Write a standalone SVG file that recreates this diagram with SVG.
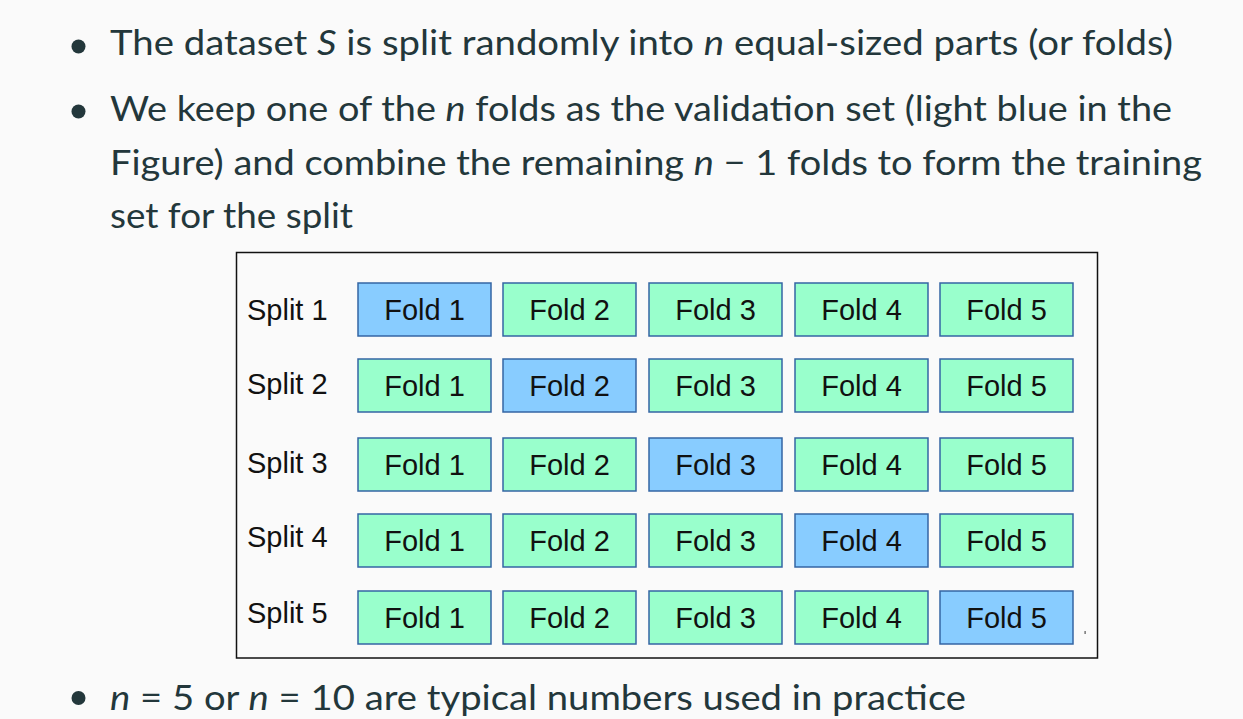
<svg xmlns="http://www.w3.org/2000/svg" width="1243" height="719" viewBox="0 0 1243 719">
<style>
.bt{font-family:"Lato","Open Sans","DejaVu Sans",sans-serif;font-size:35px;fill:#23373b}
.m{font-style:italic}
.lbl{font-family:"Liberation Sans",Arial,sans-serif;font-size:29px;fill:#111}
.ft{font-family:"Liberation Sans",Arial,sans-serif;font-size:29px;fill:#111;text-anchor:middle}
.tr{fill:#99ffcc;stroke:#3465a4;stroke-width:1.5}
.va{fill:#88ccff;stroke:#3465a4;stroke-width:1.5}
</style>
<rect x="0" y="0" width="1243" height="719" fill="#fafafa"/>
<g id="bullets" fill="#23373b">
<circle cx="78.5" cy="46.5" r="7"/>
<circle cx="78.5" cy="111.5" r="7"/>
<circle cx="78.5" cy="698" r="7"/>
</g>
<g id="text">
<text class="bt" x="110" y="55" textLength="1063" lengthAdjust="spacingAndGlyphs">The dataset <tspan class="m">S</tspan> is split randomly into <tspan class="m">n</tspan> equal-sized parts (or folds)</text>
<text class="bt" x="110" y="121" textLength="1062" lengthAdjust="spacingAndGlyphs">We keep one of the <tspan class="m">n</tspan> folds as the validation set (light blue in the</text>
<text class="bt" x="110" y="175" textLength="1092" lengthAdjust="spacingAndGlyphs">Figure) and combine the remaining <tspan class="m">n</tspan> − 1 folds to form the training</text>
<text class="bt" x="110" y="228" textLength="243" lengthAdjust="spacingAndGlyphs">set for the split</text>
<text class="bt" x="110" y="710" textLength="856" lengthAdjust="spacingAndGlyphs"><tspan class="m">n</tspan> = 5 or <tspan class="m">n</tspan> = 10 are typical numbers used in practice</text>
</g>
<g id="frame">
<rect x="236.5" y="252.5" width="861" height="405.5" fill="#fafafa" stroke="#111" stroke-width="1.5"/>
<rect x="1084.5" y="631" width="1.2" height="3" fill="#555"/>
</g>
<g id="labels">
<text class="lbl" x="247" y="320">Split 1</text>
<text class="lbl" x="247" y="394">Split 2</text>
<text class="lbl" x="247" y="473">Split 3</text>
<text class="lbl" x="247" y="547">Split 4</text>
<text class="lbl" x="247" y="623">Split 5</text>
</g>
<g id="row1">
<g id="s1f1"><rect class="va" x="358" y="283" width="133" height="53"/><text class="ft" x="424.5" y="320">Fold 1</text></g>
<g id="s1f2"><rect class="tr" x="503" y="283" width="133" height="53"/><text class="ft" x="569.5" y="320">Fold 2</text></g>
<g id="s1f3"><rect class="tr" x="649" y="283" width="133" height="53"/><text class="ft" x="715.5" y="320">Fold 3</text></g>
<g id="s1f4"><rect class="tr" x="795" y="283" width="133" height="53"/><text class="ft" x="861.5" y="320">Fold 4</text></g>
<g id="s1f5"><rect class="tr" x="940" y="283" width="133" height="53"/><text class="ft" x="1006.5" y="320">Fold 5</text></g>
</g>
<g id="row2">
<g id="s2f1"><rect class="tr" x="358" y="359" width="133" height="53"/><text class="ft" x="424.5" y="396">Fold 1</text></g>
<g id="s2f2"><rect class="va" x="503" y="359" width="133" height="53"/><text class="ft" x="569.5" y="396">Fold 2</text></g>
<g id="s2f3"><rect class="tr" x="649" y="359" width="133" height="53"/><text class="ft" x="715.5" y="396">Fold 3</text></g>
<g id="s2f4"><rect class="tr" x="795" y="359" width="133" height="53"/><text class="ft" x="861.5" y="396">Fold 4</text></g>
<g id="s2f5"><rect class="tr" x="940" y="359" width="133" height="53"/><text class="ft" x="1006.5" y="396">Fold 5</text></g>
</g>
<g id="row3">
<g id="s3f1"><rect class="tr" x="358" y="438" width="133" height="53"/><text class="ft" x="424.5" y="475">Fold 1</text></g>
<g id="s3f2"><rect class="tr" x="503" y="438" width="133" height="53"/><text class="ft" x="569.5" y="475">Fold 2</text></g>
<g id="s3f3"><rect class="va" x="649" y="438" width="133" height="53"/><text class="ft" x="715.5" y="475">Fold 3</text></g>
<g id="s3f4"><rect class="tr" x="795" y="438" width="133" height="53"/><text class="ft" x="861.5" y="475">Fold 4</text></g>
<g id="s3f5"><rect class="tr" x="940" y="438" width="133" height="53"/><text class="ft" x="1006.5" y="475">Fold 5</text></g>
</g>
<g id="row4">
<g id="s4f1"><rect class="tr" x="358" y="514" width="133" height="53"/><text class="ft" x="424.5" y="551">Fold 1</text></g>
<g id="s4f2"><rect class="tr" x="503" y="514" width="133" height="53"/><text class="ft" x="569.5" y="551">Fold 2</text></g>
<g id="s4f3"><rect class="tr" x="649" y="514" width="133" height="53"/><text class="ft" x="715.5" y="551">Fold 3</text></g>
<g id="s4f4"><rect class="va" x="795" y="514" width="133" height="53"/><text class="ft" x="861.5" y="551">Fold 4</text></g>
<g id="s4f5"><rect class="tr" x="940" y="514" width="133" height="53"/><text class="ft" x="1006.5" y="551">Fold 5</text></g>
</g>
<g id="row5">
<g id="s5f1"><rect class="tr" x="358" y="591" width="133" height="53"/><text class="ft" x="424.5" y="628">Fold 1</text></g>
<g id="s5f2"><rect class="tr" x="503" y="591" width="133" height="53"/><text class="ft" x="569.5" y="628">Fold 2</text></g>
<g id="s5f3"><rect class="tr" x="649" y="591" width="133" height="53"/><text class="ft" x="715.5" y="628">Fold 3</text></g>
<g id="s5f4"><rect class="tr" x="795" y="591" width="133" height="53"/><text class="ft" x="861.5" y="628">Fold 4</text></g>
<g id="s5f5"><rect class="va" x="940" y="591" width="133" height="53"/><text class="ft" x="1006.5" y="628">Fold 5</text></g>
</g>
<g id="connectors"/>
</svg>
